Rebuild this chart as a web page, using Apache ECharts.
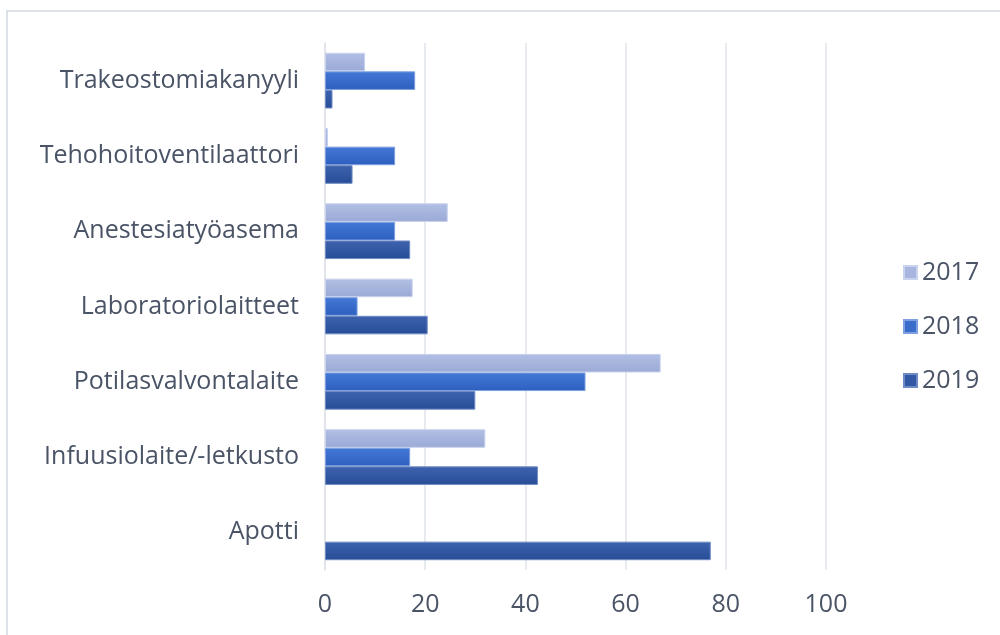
<!DOCTYPE html>
<html><head><meta charset="utf-8">
<script src="https://cdn.jsdelivr.net/npm/echarts@6/dist/echarts.min.js"></script>
<style>html,body{margin:0;padding:0;background:#fff}#c{width:1000px;height:635px}</style>
</head><body><div id="c"></div>
<script>
const categories = ['Trakeostomiakanyyli','Tehohoitoventilaattori','Anestesiatyöasema','Laboratoriolaitteet','Potilasvalvontalaite','Infuusiolaite/-letkusto','Apotti'];
const seriesNames = ['2017','2018','2019'];
const v2017 = [8, 0.6, 24.5, 17.5, 67, 32, 0];
const v2018 = [18, 14, 14, 6.5, 52, 17, 0];
const v2019 = [1.5, 5.5, 17, 20.5, 30, 42.5, 77];
const xTicks = [0, 20, 40, 60, 80, 100];

const grad = (a, b) => new echarts.graphic.LinearGradient(0, 0, 0, 1, [{offset: 0, color: a}, {offset: 1, color: b}]);
const fills = [grad('#b2bfe4', '#9aaad6'), grad('#4478d6', '#2d5fbf'), grad('#3e62ad', '#284d97')];
const legendColors = ['#a7b5df', '#3a6ccc', '#3358a4'];
const borders = ['#c9d2ee', '#7ea0e0', '#6f8bc4'];
const data = [v2017, v2018, v2019];
const font = 'Open Sans';
const txt = '#4a5466';

const chart = echarts.init(document.getElementById('c'));
chart.setOption({
  animation: false,
  grid: {left: 325, right: 174, top: 43, bottom: 65, containLabel: false},
  legend: {
    orient: 'vertical', left: 898, top: 255, itemGap: 29, itemWidth: 13, itemHeight: 13,
    icon: 'rect',
    textStyle: {fontFamily: font, fontSize: 25, color: txt, padding: [0, 0, 0, 0]},
    data: seriesNames.map((n, i) => ({name: n, itemStyle: {color: legendColors[i]}}))
  },
  xAxis: {
    type: 'value', min: 0, max: 100, interval: 20,
    axisLine: {show: false}, axisTick: {show: false},
    splitLine: {lineStyle: {color: '#dfe3ea', width: 1.5}},
    axisLabel: {fontFamily: font, fontSize: 25, color: txt, margin: 22,
      formatter: v => xTicks.includes(v) ? String(v) : ''}
  },
  yAxis: {
    type: 'category', data: categories, inverse: true,
    axisLine: {show: true, lineStyle: {color: '#dfe3ea', width: 1.5}},
    axisTick: {show: false},
    axisLabel: {fontFamily: font, fontSize: 25, color: txt, margin: 26}
  },
  graphic: [{
    type: 'polyline', silent: true,
    shape: {points: [[7, 635], [7, 11], [1000, 11]]},
    style: {stroke: '#dde1e8', lineWidth: 2, fill: null}
  }],
  series: seriesNames.map((n, i) => ({
    name: n, type: 'bar',
    data: data[i].map(v => v === 0 ? {value: 0, itemStyle: {borderWidth: 0}} : v),
    barGap: '0%', barCategoryGap: '26%',
    itemStyle: {color: fills[i], borderColor: borders[i], borderWidth: 1}
  }))
});
</script></body></html>
